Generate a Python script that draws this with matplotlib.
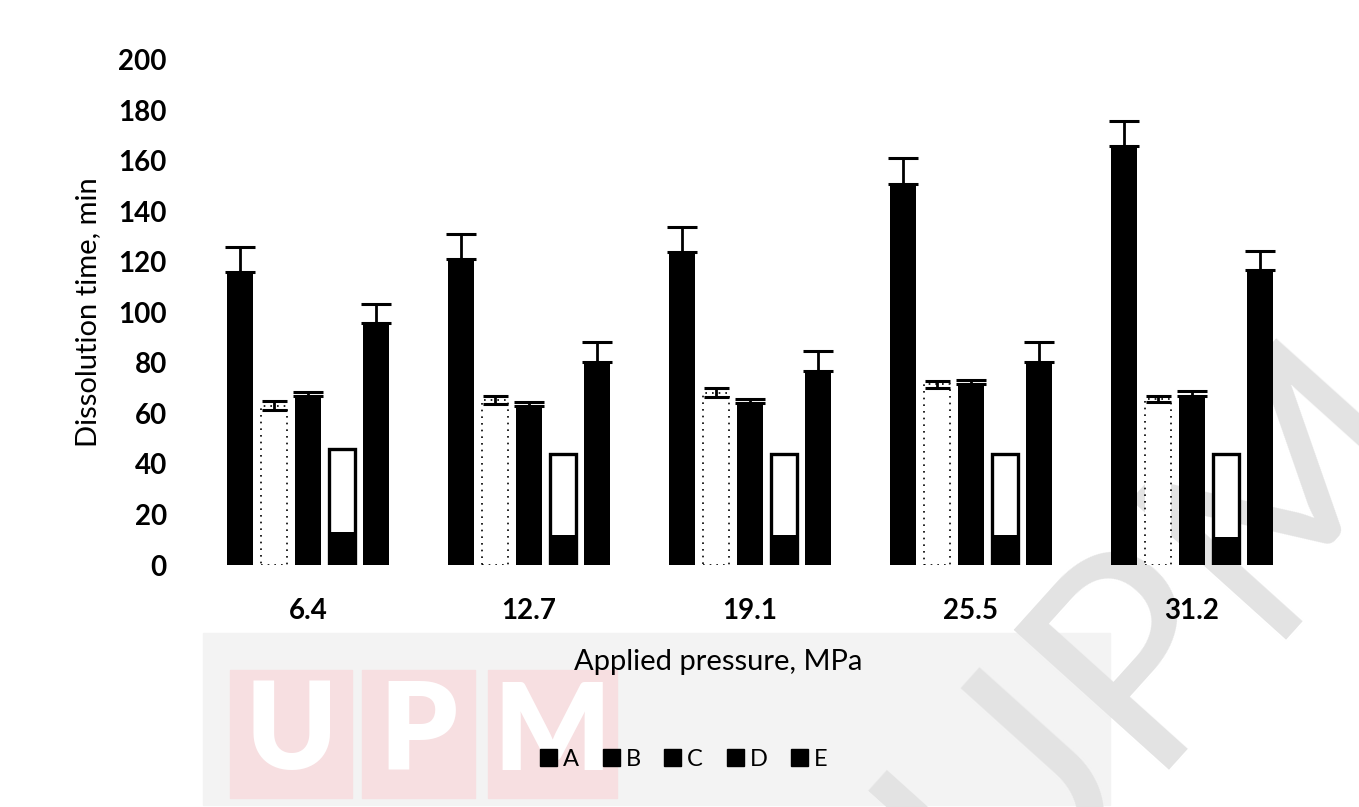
import numpy as np
import matplotlib
matplotlib.use("Agg")
import matplotlib.pyplot as plt
from matplotlib.patches import Patch, Rectangle

plt.rcParams['font.family'] = ['Lato', 'DejaVu Sans']

# data
pressure = ['6.4', '12.7', '19.1', '25.5', '31.2']
series = ['A', 'B', 'C', 'D', 'E']
A = [116, 121, 124, 151, 166]
A_err = [10, 10, 10, 10, 10]
B = [63, 65.4, 68.2, 71.5, 65.7]
B_err = [1.8, 1.7, 1.8, 1.5, 1.3]
C = [67, 63, 64, 71.5, 67]
C_err = [1.7, 1.6, 1.6, 1.7, 2.1]
D = [46, 44, 44, 44, 44]
D_fill = [13, 12, 12, 12, 11]
E = [96, 80.5, 77, 80.5, 117]
E_err = [7.5, 7.7, 7.7, 7.7, 7.5]

W, H = 1359, 807
fig = plt.figure(figsize=(W/100, H/100), dpi=100)

# watermark background (UPM logo blocks + grey panel + diagonal text)
fig.patches.append(Rectangle((203/W, 1-805/H), 907/W, 172/H,
                             transform=fig.transFigure, color='#f3f3f3', zorder=-3))
boxes = [(230, 352, 'U'), (362, 475, 'P'), (488, 617, 'M')]
for x0, x1, ch in boxes:
    fig.patches.append(Rectangle((x0/W, 1-798/H), (x1-x0)/W, 128/H,
                                 transform=fig.transFigure, color='#f7dfe1', zorder=-3))
    fig.text((x0+x1)/2/W, 1-734/H, ch, ha='center', va='center', color='white',
             fontsize=88, fontweight='heavy', zorder=-2)
fig.text(1160/W, 1-630/H, 'UPM', ha='center', va='center', rotation=48,
         rotation_mode='anchor', color='#e3e3e3', fontsize=210, zorder=-1)

ax = fig.add_axes([197.5/W, 1-565/H, 1105/W, 505/H])
ax.patch.set_alpha(0)

x = np.arange(len(pressure))
w = 0.118
step = 0.154
ekw = dict(ecolor='black', elinewidth=2, capsize=11, capthick=2.2)


def up(err):
    return [np.zeros(len(err)), err]


ax.bar(x - 2*step, A, w, color='black', yerr=up(A_err), error_kw=ekw, zorder=3)
ax.bar(x - step, B, w, color='white', edgecolor='black', linestyle=(0, (1, 3)),
       linewidth=1.2, yerr=B_err, error_kw=dict(ekw, capsize=9), zorder=3)
ax.bar(x, C, w, color='black', yerr=up(C_err), error_kw=ekw, zorder=3)
ax.bar(x + step, D, w, color='white', edgecolor='black', linewidth=2.4, zorder=3)
ax.bar(x + step, D_fill, w, color='black', zorder=4)
ax.bar(x + 2*step, E, w, color='black', yerr=up(E_err), error_kw=ekw, zorder=3)

ax.set_xlim(-0.5, len(pressure) - 0.5)
ax.set_ylim(0, 200)
ax.set_yticks(np.arange(0, 201, 20))
ax.set_xticks(x)
ax.set_xticklabels(pressure)
for s in ax.spines.values():
    s.set_visible(False)
ax.tick_params(axis='both', length=0, labelsize=20)
ax.tick_params(axis='y', pad=22)
ax.tick_params(axis='x', pad=24)
for lab in ax.get_xticklabels() + ax.get_yticklabels():
    lab.set_fontweight('bold')

fig.text(88/W, 1-312/H, 'Dissolution time, min', rotation=90, ha='center',
         va='center', fontsize=21)
fig.text(718/W, 1-662/H, 'Applied pressure, MPa', ha='center', va='center',
         fontsize=21)

handles = [Patch(facecolor='black', edgecolor='black') for _ in series]
fig.legend(handles, series, loc='center', bbox_to_anchor=(684/W, 1-759/H),
           ncol=5, frameon=False, fontsize=17, handlelength=0.72, handleheight=0.72,
           handletextpad=0.25, columnspacing=1.0)

fig.savefig('out.png', dpi=100)
